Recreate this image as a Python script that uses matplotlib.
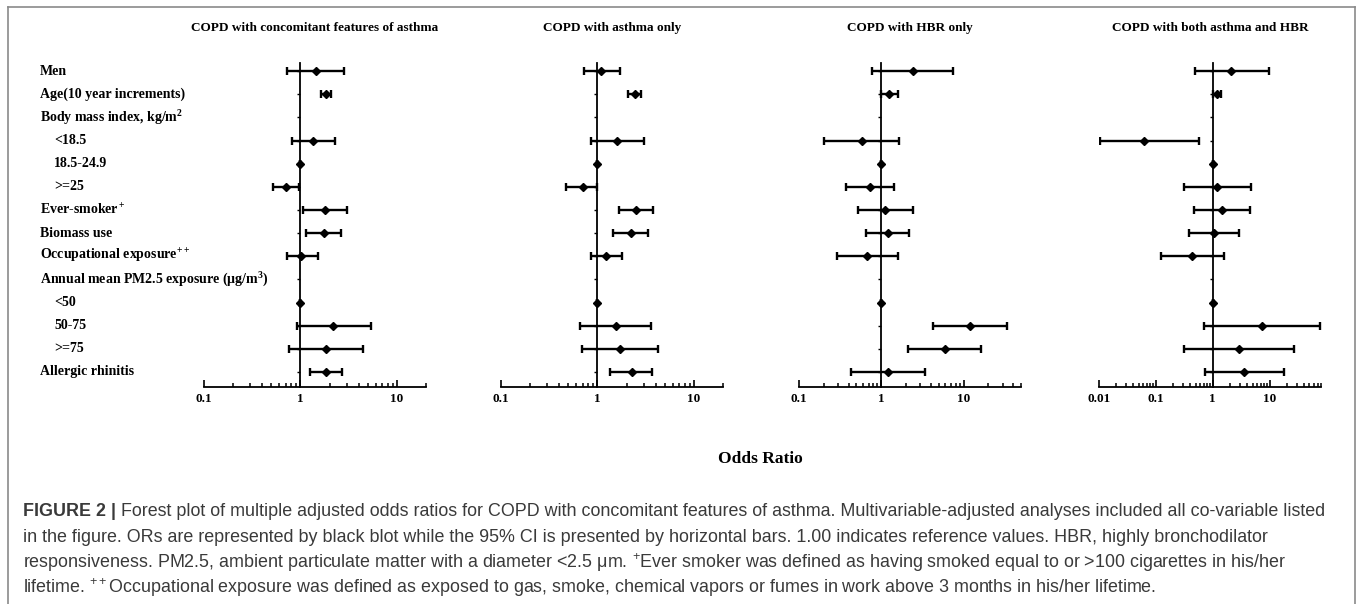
import numpy as np
import matplotlib
matplotlib.use("Agg")
import matplotlib.pyplot as plt
from matplotlib.transforms import blended_transform_factory
from matplotlib.lines import Line2D
from matplotlib.ticker import LogLocator, FixedLocator, NullFormatter

plt.rcParams['font.family'] = ['Liberation Serif', 'DejaVu Serif']
plt.rcParams['mathtext.fontset'] = 'custom'
plt.rcParams['mathtext.rm'] = 'Liberation Serif:bold'
plt.rcParams['mathtext.bf'] = 'Liberation Serif:bold'
plt.rcParams['mathtext.it'] = 'Liberation Serif:italic:bold'
plt.rcParams['mathtext.sf'] = 'Liberation Sans'

nan = np.nan

# row labels (indent = 1 for sub-categories)
rows = ["Men", "Age(10 year increments)", "Body mass index, kg/m$^2$", "<18.5", "18.5-24.9",
        ">=25", "Ever-smoker$^+$", "Biomass use", "Occupational exposure$^{++}$",
        "Annual mean PM2.5 exposure (μg/m$^3$)", "<50", "50-75", ">=75", "Allergic rhinitis"]
indent = [0, 0, 0, 1, 1, 1, 0, 0, 0, 0, 1, 1, 1, 0]

titles = ["COPD with concomitant features of asthma", "COPD with asthma only",
          "COPD with HBR only", "COPD with both asthma and HBR"]

# odds ratios and 95% CI per panel
p1_or = [1.44, 1.86, nan, 1.35, 1.0, 0.70, 1.79, 1.74, 1.02, nan, 1.0, 2.18, 1.86, 1.86]
p1_lo = [0.73, 1.65, nan, 0.81, 1.0, 0.52, 1.06, 1.13, 0.72, nan, 1.0, 0.91, 0.76, 1.27]
p1_hi = [2.83, 2.09, nan, 2.28, 1.0, 0.97, 3.00, 2.62, 1.52, nan, 1.0, 5.44, 4.45, 2.72]

p2_or = [1.10, 2.42, nan, 1.61, 1.0, 0.70, 2.52, 2.20, 1.22, nan, 1.0, 1.56, 1.71, 2.27]
p2_lo = [0.72, 2.09, nan, 0.85, 1.0, 0.47, 1.67, 1.44, 0.85, nan, 1.0, 0.66, 0.69, 1.34]
p2_hi = [1.71, 2.82, nan, 3.03, 1.0, 1.00, 3.80, 3.37, 1.80, nan, 1.0, 3.59, 4.25, 3.71]

p3_or = [2.42, 1.25, nan, 0.58, 1.0, 0.73, 1.11, 1.20, 0.68, nan, 1.0, 12.0, 5.93, 1.21]
p3_lo = [0.78, 0.98, nan, 0.20, 1.0, 0.37, 0.52, 0.66, 0.29, nan, 1.0, 4.3, 2.14, 0.43]
p3_hi = [7.5, 1.59, nan, 1.66, 1.0, 1.44, 2.45, 2.18, 1.60, nan, 1.0, 34.2, 16.2, 3.40]

p4_or = [2.13, 1.19, nan, 0.061, 1.0, 1.19, 1.46, 1.07, 0.43, nan, 1.0, 7.4, 2.90, 3.60]
p4_lo = [0.48, 1.0, nan, 0.0103, 1.0, 0.31, 0.46, 0.39, 0.124, nan, 1.0, 0.71, 0.31, 0.73]
p4_hi = [9.6, 1.42, nan, 0.58, 1.0, 4.72, 4.47, 2.94, 1.58, nan, 1.0, 75.9, 27.2, 17.7]

xlims = [(0.1, 20), (0.1, 20), (0.1, 50), (0.01, 80)]
major_ticks = [[0.1, 1, 10], [0.1, 1, 10], [0.1, 1, 10], [0.01, 0.1, 1, 10]]
tick_labels = [["0.1", "1", "10"], ["0.1", "1", "10"], ["0.1", "1", "10"], ["0.01", "0.1", "1", "10"]]

caption = [
    "Forest plot of multiple adjusted odds ratios for COPD with concomitant features of asthma. Multivariable-adjusted analyses included all co-variable listed",
    "in the figure. ORs are represented by black blot while the 95% CI is presented by horizontal bars. 1.00 indicates reference values. HBR, highly bronchodilator",
    "responsiveness. PM2.5, ambient particulate matter with a diameter <2.5 μm. $^{\\mathsf{+}}$Ever smoker was defined as having smoked equal to or >100 cigarettes in his/her",
    "lifetime. $^{\\mathsf{++}}$Occupational exposure was defined as exposed to gas, smoke, chemical vapors or fumes in work above 3 months in his/her lifetime.",
]

W, H = 1357, 604
fig = plt.figure(figsize=(W / 100, H / 100), dpi=100)

panels = [(p1_or, p1_lo, p1_hi), (p2_or, p2_lo, p2_hi), (p3_or, p3_lo, p3_hi), (p4_or, p4_lo, p4_hi)]
lefts = [204, 501, 799, 1099]
ax_w = 222
ax_top, ax_bot = 63, 387
y = np.arange(len(rows))

axes = []
for i, (orr, lo, hi) in enumerate(panels):
    ax = fig.add_axes([lefts[i] / W, (H - ax_bot) / H, ax_w / W, (ax_bot - ax_top) / H])
    orr, lo, hi = np.array(orr), np.array(lo), np.array(hi)
    ax.errorbar(orr, y, xerr=[orr - lo, hi - orr], fmt='D', ms=3.6, color='k', ecolor='k',
                elinewidth=1.7, capsize=3.2, capthick=1.7)
    ax.set_xscale('log')
    ax.set_xlim(*xlims[i])
    ax.set_ylim(len(rows) - 0.35, -0.35)
    ax.spines['top'].set_visible(False)
    ax.spines['right'].set_visible(False)
    ax.spines['left'].set_position(('data', 1))
    ax.spines['left'].set_linewidth(1.3)
    ax.spines['bottom'].set_linewidth(1.3)
    ax.set_yticks(y)
    ax.set_yticklabels([])
    ax.tick_params(axis='y', length=2.5, width=1, direction='out')
    ax.xaxis.set_major_locator(FixedLocator(major_ticks[i]))
    ax.set_xticklabels(tick_labels[i], fontsize=9.5, fontweight='bold')
    ax.xaxis.set_minor_locator(LogLocator(base=10, subs=np.arange(2, 10)))
    ax.xaxis.set_minor_formatter(NullFormatter())
    ax.tick_params(axis='x', which='major', direction='in', length=5, width=1.2, pad=4)
    ax.tick_params(axis='x', which='minor', direction='in', length=3, width=1.1)
    ax.patch.set_alpha(0)
    fig.text((lefts[i] + ax_w / 2) / W, 1 - 28 / H, titles[i], ha='center', va='center',
             fontsize=9.5, fontweight='bold')
    axes.append(ax)

# row labels on the left
tr = blended_transform_factory(fig.transFigure, axes[0].transData)
for k, lab in enumerate(rows):
    x0 = 40 if indent[k] == 0 else 54
    fig.text(x0 / W, k, lab, transform=tr, ha='left', va='center', fontsize=10, fontweight='bold')

fig.text(760 / W, 1 - 459 / H, "Odds Ratio", ha='center', va='center', fontsize=12.5, fontweight='bold')

# frame
fc = '#8a8a8a'
fig.add_artist(Line2D([8 / W, 8 / W], [0, 1 - 7 / H], color=fc, lw=1.2))
fig.add_artist(Line2D([8 / W, 1355 / W], [1 - 7 / H, 1 - 7 / H], color=fc, lw=1.2))
fig.add_artist(Line2D([1355 / W, 1355 / W], [0, 1 - 7 / H], color=fc, lw=1.2))

# caption
cap_kw = dict(family=['Liberation Sans', 'DejaVu Sans'], fontsize=12.9, color='#3a3a3a', va='center')
line_y = [512, 537, 562, 587]
head = fig.text(23 / W, 1 - line_y[0] / H, "FIGURE 2 | ", fontweight='bold', **cap_kw)
fig.canvas.draw()
bb = head.get_window_extent(fig.canvas.get_renderer())
fig.text(bb.x1 / W, 1 - line_y[0] / H, caption[0], **cap_kw)
for k in range(1, 4):
    fig.text(23 / W, 1 - line_y[k] / H, caption[k], **cap_kw)

fig.savefig("out.png", dpi=100)
